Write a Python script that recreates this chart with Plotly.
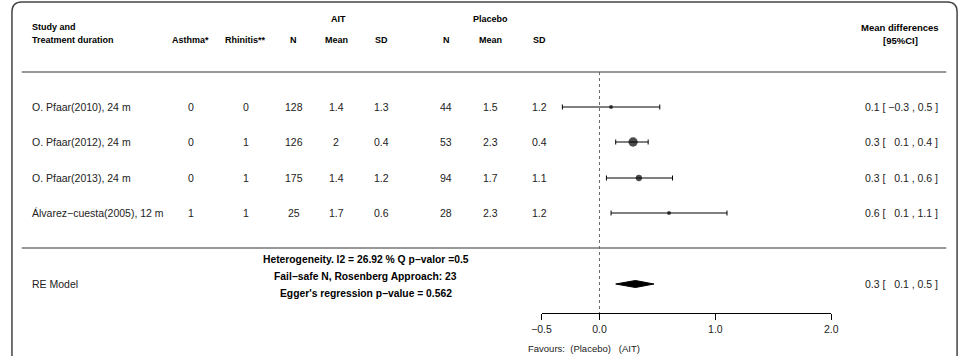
import plotly.graph_objects as go

# ---------------- data ----------------
studies = ["O. Pfaar(2010), 24 m", "O. Pfaar(2012), 24 m",
           "O. Pfaar(2013), 24 m", "Álvarez−cuesta(2005), 12 m"]
asthma = [0, 0, 0, 1]
rhinitis = [0, 1, 1, 1]
ait_n = [128, 126, 175, 25]
ait_mean = [1.4, 2, 1.4, 1.7]
ait_sd = [1.3, 0.4, 1.2, 0.6]
pla_n = [44, 53, 94, 28]
pla_mean = [1.5, 2.3, 1.7, 2.3]
pla_sd = [1.2, 0.4, 1.1, 1.2]
est = [0.10, 0.29, 0.34, 0.60]
ci_lo = [-0.32, 0.14, 0.06, 0.10]
ci_hi = [0.52, 0.42, 0.63, 1.10]
weights = [10, 55, 25, 10]
re_est, re_lo, re_hi = 0.31, 0.14, 0.47
tick_vals = [-0.5, 0.0, 1.0, 2.0]
tick_text = ["−0.5", "0.0", "1.0", "2.0"]
stats_lines = ["Heterogeneity. I2 = 26.92 % Q p−valor =0.5",
               "Fail−safe N, Rosenberg Approach: 23",
               "Egger's regression p−value = 0.562"]

# ---------------- layout helpers ----------------
W, H = 969, 356
FONT = "Liberation Sans, Arial, sans-serif"
row_y = [107, 142, 178, 213]
re_y = 284
axis_y = 313
col_x = [184, 240, 289, 332, 378, 444, 489, 539]
ci_right = 947


def fmt(v, pad):
    s = f"{v:.1f}"
    if s.startswith("-"):
        return "−" + s[1:]
    return ("\u00a0\u00a0" + s) if pad else s


def ci_label(e, lo, hi):
    return f"{e:.1f} [ {fmt(lo, True)} , {fmt(hi, False)} ]"


fig = go.Figure()

# study estimates with CI
sizes = [1.25 * (w ** 0.5) for w in weights]
fig.add_trace(go.Scatter(
    x=est, y=row_y, mode="markers", xaxis="x2", yaxis="y2",
    marker=dict(color="black", size=sizes, line=dict(width=0)),
    error_x=dict(type="data", symmetric=False,
                 array=[h - e for h, e in zip(ci_hi, est)],
                 arrayminus=[e - l for e, l in zip(est, ci_lo)],
                 thickness=1, width=2.5, color="black"),
    hoverinfo="skip", showlegend=False))

# RE diamond
fig.add_trace(go.Scatter(
    x=[re_lo, re_est, re_hi, re_est, re_lo],
    y=[re_y, re_y - 3.5, re_y, re_y + 3.5, re_y],
    mode="lines", fill="toself", fillcolor="black",
    line=dict(color="black", width=1), xaxis="x2", yaxis="y2",
    hoverinfo="skip", showlegend=False))

# text annotations
ann = []


def txt(x, y, s, size=10, bold=False, anchor="center", color="#222"):
    ann.append(dict(x=x, y=y, xref="x", yref="y", text=s, showarrow=False,
                    xanchor=anchor, yanchor="middle",
                    font=dict(family=FONT, size=size,
                              color="black" if bold else color,
                              weight="bold" if bold else "normal")))


# headers
txt(20, 27, "Study and", 9, True, "left")
txt(20, 40, "Treatment duration", 9, True, "left")
txt(334, 19, "AIT", 9, True)
txt(489, 19, "Placebo", 9, True)
for x, h in zip(col_x, ["Asthma*", "Rhinitis**", "N", "Mean", "SD", "N", "Mean", "SD"]):
    txt(x, 40, h, 9, True)
txt(906, 27, "Mean differences", 9.5, True)
txt(906, 40, "[95%CI]", 9.5, True)

# rows
cols = [asthma, rhinitis, ait_n, ait_mean, ait_sd, pla_n, pla_mean, pla_sd]
for i, y in enumerate(row_y):
    txt(20, y, studies[i], 10.5, anchor="left")
    for x, c in zip(col_x, cols):
        txt(x, y, str(c[i]), 10.5)
    txt(ci_right, y, ci_label(est[i], ci_lo[i], ci_hi[i]), 10.5, anchor="right")

# RE model
txt(20, re_y, "RE Model", 10.5, anchor="left")
txt(ci_right, re_y, ci_label(re_est, re_lo, re_hi), 10.5, anchor="right")
for y, s in zip([259, 276, 293], stats_lines):
    txt(362, y, s, 10.3, True)

txt(643, 348, "Favours:\u00a0\u00a0(Placebo)\u00a0\u00a0\u00a0(AIT)", 9.5, anchor="right")

shapes = [
    # rounded border
    dict(type="path", xref="x", yref="y",
         path="M 2,370 L 2,12 Q 2,2 12,2 L 954,2 Q 964,2 964,12 L 964,370",
         line=dict(color="#444", width=1.5)),
    dict(type="line", xref="x", yref="y", x0=12, x1=953, y0=72, y1=72,
         line=dict(color="#333", width=1.2)),
    dict(type="line", xref="x", yref="y", x0=12, x1=953, y0=248, y1=248,
         line=dict(color="#333", width=1.2)),
    dict(type="line", xref="x2", yref="y2", x0=0, x1=0, y0=72, y1=axis_y,
         line=dict(color="#666", width=1, dash="dot")),
]

fig.update_layout(
    width=W, height=H, margin=dict(l=0, r=0, t=0, b=0), autosize=False,
    paper_bgcolor="white", plot_bgcolor="rgba(0,0,0,0)",
    xaxis=dict(domain=[0, 1], range=[0, W], visible=False, fixedrange=True),
    yaxis=dict(domain=[0, 1], range=[H, 0], visible=False, fixedrange=True),
    xaxis2=dict(domain=[541 / W, 836 / W], range=[-0.5, 2.0], anchor="y2",
                showline=True, linecolor="black", linewidth=1,
                ticks="outside", ticklen=6, tickwidth=1, tickcolor="black",
                tickvals=tick_vals, ticktext=tick_text,
                tickfont=dict(family=FONT, size=10.5, color="#222"),
                showgrid=False, zeroline=False, fixedrange=True),
    yaxis2=dict(domain=[(H - axis_y) / H, 1], range=[axis_y, 0], anchor="x2",
                visible=False, fixedrange=True),
    annotations=ann, shapes=shapes, showlegend=False,
)

fig.write_html("out.html")
